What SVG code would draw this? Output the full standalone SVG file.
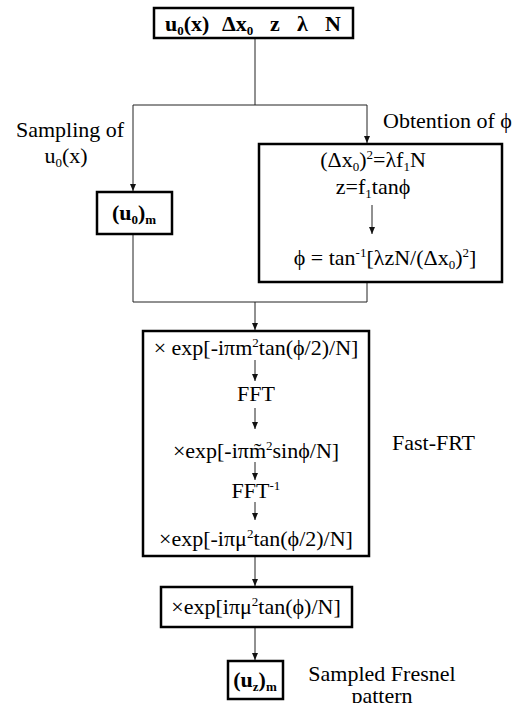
<svg xmlns="http://www.w3.org/2000/svg" width="522" height="703" viewBox="0 0 522 703" font-family="'Liberation Serif', 'DejaVu Serif', serif">
<defs>
<marker id="ah" markerWidth="8" markerHeight="8" refX="7" refY="3" orient="auto" markerUnits="userSpaceOnUse">
<path d="M0,0 L7,3 L0,6 Z" fill="#111"/>
</marker>
<style>
.box{fill:#fff;stroke:#000;stroke-width:2.5}
.ln{fill:none;stroke:#222;stroke-width:1}
.arr{fill:none;stroke:#222;stroke-width:1;marker-end:url(#ah)}
text{font-family:'Liberation Serif','DejaVu Serif',serif;font-size:22px;fill:#000}
.b{font-weight:bold}
.c{text-anchor:middle}
</style>
</defs>
<rect width="522" height="703" fill="#fff"/>
<g id="connectors">
<line class="ln" x1="255" y1="38" x2="255" y2="105"/>
<line class="ln" x1="133" y1="105" x2="367" y2="105"/>
<line class="arr" x1="133" y1="105" x2="133" y2="191"/>
<line class="arr" x1="367" y1="105" x2="367" y2="143"/>
<line class="ln" x1="133" y1="234" x2="133" y2="302"/>
<line class="ln" x1="367" y1="282" x2="367" y2="302"/>
<line class="ln" x1="133" y1="302" x2="367" y2="302"/>
<line class="arr" x1="255" y1="302" x2="255" y2="330"/>
<line class="arr" x1="255" y1="556" x2="255" y2="586"/>
<line class="arr" x1="255" y1="627" x2="255" y2="660"/>
</g>
<g id="input">
<rect class="box" x="154" y="8" width="199" height="30"/>
<text class="b" x="165" y="31">u<tspan dy="4" font-size="13">0</tspan><tspan dy="-4">(x)</tspan></text>
<text class="b" x="222" y="31">Δx<tspan dy="4" font-size="13">0</tspan></text>
<text class="b" x="270" y="31">z</text>
<text class="b" x="297" y="31">λ</text>
<text class="b" x="325" y="31">N</text>
</g>
<g id="label-sampling">
<text class="c" x="70" y="137">Sampling of</text>
<text class="c" x="66" y="163">u<tspan dy="4" font-size="13">0</tspan><tspan dy="-4">(x)</tspan></text>
</g>
<g id="label-obtention">
<text x="383" y="128">Obtention of ϕ</text>
</g>
<g id="sampled">
<rect class="box" x="97" y="192" width="75" height="42"/>
<text class="b c" x="134" y="220">(u<tspan dy="4" font-size="13">0</tspan><tspan dy="-4">)</tspan><tspan dy="4" font-size="13">m</tspan></text>
</g>
<g id="phi">
<rect class="box" x="259" y="144" width="243" height="138"/>
<text class="c" x="373" y="167">(Δx<tspan dy="4" font-size="13">0</tspan><tspan dy="-4">)</tspan><tspan dy="-8" font-size="13">2</tspan><tspan dy="8">=λf</tspan><tspan dy="4" font-size="13">1</tspan><tspan dy="-4">N</tspan></text>
<text class="c" x="373" y="194">z=f<tspan dy="4" font-size="13">1</tspan><tspan dy="-4">tanϕ</tspan></text>
<line class="arr" x1="372" y1="205" x2="372" y2="234"/>
<text class="c" x="385" y="265">ϕ = tan<tspan dy="-8" font-size="13">-1</tspan><tspan dy="8">[λzN/(Δx</tspan><tspan dy="4" font-size="13">0</tspan><tspan dy="-4">)</tspan><tspan dy="-8" font-size="13">2</tspan><tspan dy="8">]</tspan></text>
</g>
<g id="fast-frt">
<rect class="box" x="143" y="331" width="226" height="225"/>
<text class="c" x="256" y="355">× exp[-iπm<tspan dy="-8" font-size="13">2</tspan><tspan dy="8">tan(ϕ/2)/N]</tspan></text>
<line class="arr" x1="255" y1="360" x2="255" y2="381"/>
<text class="c" x="256" y="401">FFT</text>
<line class="arr" x1="255" y1="408" x2="255" y2="429"/>
<text class="c" x="256" y="458">×exp[-iπm&#771;<tspan dy="-8" font-size="13">2</tspan><tspan dy="8">sinϕ/N]</tspan></text>
<line class="arr" x1="255" y1="462" x2="255" y2="480"/>
<text class="c" x="256" y="498">FFT<tspan dy="-8" font-size="13">-1</tspan></text>
<line class="arr" x1="255" y1="502" x2="255" y2="520"/>
<text class="c" x="256" y="546">×exp[-iπμ<tspan dy="-8" font-size="13">2</tspan><tspan dy="8">tan(ϕ/2)/N]</tspan></text>
</g>
<g id="label-fast-frt">
<text x="392" y="450">Fast-FRT</text>
</g>
<g id="multiply">
<rect class="box" x="161" y="587" width="191" height="40"/>
<text class="c" x="256" y="614">×exp[iπμ<tspan dy="-8" font-size="13">2</tspan><tspan dy="8">tan(ϕ)/N]</tspan></text>
</g>
<g id="output">
<rect class="box" x="228" y="661" width="55" height="38"/>
<text class="b c" x="255" y="687">(u<tspan dy="4" font-size="13">z</tspan><tspan dy="-4">)</tspan><tspan dy="4" font-size="13">m</tspan></text>
</g>
<g id="label-output">
<text class="c" x="382" y="681">Sampled Fresnel</text>
<text class="c" x="382" y="703">pattern</text>
</g>
</svg>
